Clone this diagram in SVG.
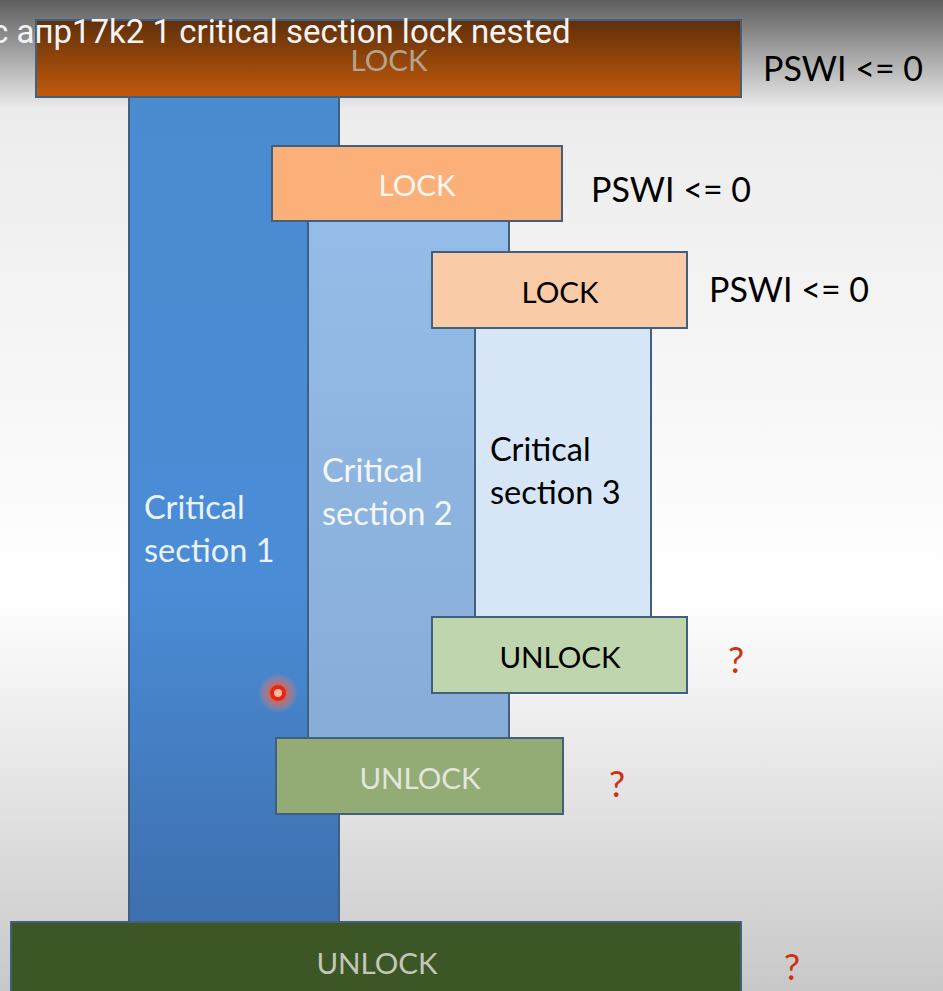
<svg xmlns="http://www.w3.org/2000/svg" width="943" height="991" viewBox="0 0 943 991">
<defs>
<linearGradient id="bg" x1="0" y1="0" x2="0" y2="1">
<stop offset="0" stop-color="#5e5e5e"/>
<stop offset="0.11" stop-color="#ececec"/>
<stop offset="0.6" stop-color="#ffffff"/>
<stop offset="1" stop-color="#c8c8c8"/>
</linearGradient>
<linearGradient id="lock1" x1="0" y1="0" x2="0" y2="1">
<stop offset="0" stop-color="#5f2f0a"/>
<stop offset="1" stop-color="#c25a0c"/>
</linearGradient>
<linearGradient id="cs1" x1="0" y1="0" x2="0" y2="1">
<stop offset="0" stop-color="#4a8bd0"/>
<stop offset="0.6" stop-color="#4a8cd6"/>
<stop offset="1" stop-color="#3e6fae"/>
</linearGradient>
<linearGradient id="cs2" x1="0" y1="0" x2="0" y2="1">
<stop offset="0" stop-color="#93bde8"/>
<stop offset="1" stop-color="#88acd8"/>
</linearGradient>
<radialGradient id="glow">
<stop offset="0.3" stop-color="#ff5030" stop-opacity="0.85"/>
<stop offset="1" stop-color="#ff9070" stop-opacity="0"/>
</radialGradient>
</defs>
<style>
.box{stroke:#41607f;stroke-width:2}
.lbl{font-family:Lato,"Open Sans","Liberation Sans",sans-serif;font-size:29.5px;text-anchor:middle}
.cs{font-family:Lato,"Open Sans","Liberation Sans",sans-serif;font-size:32.5px}
.pswi{font-family:Lato,"Open Sans","Liberation Sans",sans-serif;font-size:34px;fill:#000}
.q{font-family:Lato,"Open Sans","Liberation Sans",sans-serif;font-size:36px;fill:#d03010}
</style>
<rect x="0" y="0" width="943" height="991" fill="url(#bg)"/>
<g id="cs1-node">
<rect class="box" x="129" y="90" width="210" height="832" fill="url(#cs1)"/>
<text class="cs" fill="#eaf2fb"><tspan x="144" y="519">Critical</tspan><tspan x="144" y="562">section 1</tspan></text>
</g>
<g id="cs2-node">
<rect class="box" x="308" y="221" width="201" height="517" fill="url(#cs2)"/>
<text class="cs" fill="#f4f8fd"><tspan x="322" y="482">Critical</tspan><tspan x="322" y="525">section 2</tspan></text>
</g>
<g id="cs3-node">
<rect class="box" x="475" y="328" width="176" height="289" fill="#d6e6f6"/>
<text class="cs" fill="#000"><tspan x="490" y="461">Critical</tspan><tspan x="490" y="504">section 3</tspan></text>
</g>
<g id="lock1-node">
<rect class="box" x="36" y="20" width="705" height="77" fill="url(#lock1)"/>
<text class="lbl" x="389" y="71" fill="#b4a48f">LOCK</text>
</g>
<g id="lock2-node">
<rect class="box" x="272" y="146" width="290" height="75" fill="#fbb07a"/>
<text class="lbl" x="417" y="196" fill="#fff8f0">LOCK</text>
</g>
<g id="lock3-node">
<rect class="box" x="432" y="252" width="255" height="76" fill="#f9cba6"/>
<text class="lbl" x="560" y="303" fill="#000">LOCK</text>
</g>
<g id="unlock3-node">
<rect class="box" x="432" y="617" width="255" height="76" fill="#bfd5ad"/>
<text class="lbl" x="560" y="668" fill="#000">UNLOCK</text>
</g>
<g id="unlock2-node">
<rect class="box" x="276" y="738" width="287" height="76" fill="#93ac75"/>
<text class="lbl" x="420" y="789" fill="#e2e6dc">UNLOCK</text>
</g>
<g id="unlock1-node">
<rect class="box" x="11" y="922" width="730" height="75" fill="#3c5626"/>
<text class="lbl" x="377" y="974" fill="#c2c8b8">UNLOCK</text>
</g>
<g id="connectors"/>
<g id="notes">
<text class="pswi" x="763" y="81">PSWI &lt;= 0</text>
<text class="pswi" x="591" y="202">PSWI &lt;= 0</text>
<text class="pswi" x="709" y="302">PSWI &lt;= 0</text>
<text class="q" x="736" y="673" text-anchor="middle">?</text>
<text class="q" x="617" y="797" text-anchor="middle">?</text>
<text class="q" x="792" y="980" text-anchor="middle">?</text>
</g>
<g id="pointer">
<circle cx="278" cy="693" r="20" fill="url(#glow)"/>
<circle cx="278" cy="693" r="6" fill="#ffb8a0" stroke="#e02a10" stroke-width="4"/>
</g>
<text x="-9" y="43" font-family="Roboto,'Liberation Sans',sans-serif" font-size="33" fill="#f4f4f4">c апр17k2 1 critical section lock nested</text>
</svg>
